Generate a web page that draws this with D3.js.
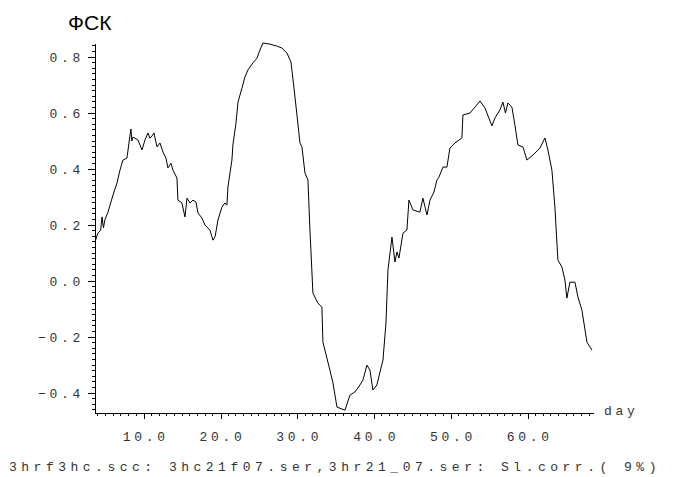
<!DOCTYPE html>
<html>
<head>
<meta charset="utf-8">
<script src="https://cdn.jsdelivr.net/npm/d3@7"></script>
<style>
  body { margin: 0; background: #fff; }
  svg { display: block; }
  .tick-label { font-family: "Liberation Mono", monospace; font-size: 13px; fill: #333; letter-spacing: 3.7px; }
  .footer { font-family: "Liberation Mono", monospace; font-size: 13px; fill: #333; letter-spacing: 4.5px; }
  .title { font-family: "Liberation Sans", Arial, sans-serif; font-size: 21px; fill: #000; }
</style>
</head>
<body>
<div id="chart"></div>
<script>
// series: day vs correlation
const days = [
  3.65, 4.0, 4.39, 4.56, 4.75, 4.95, 5.34, 5.99, 6.51, 6.90, 7.29, 7.81, 8.07, 8.33, 8.45, 8.59,
  9.24, 9.77, 10.16, 10.55, 10.8, 11.07, 11.33, 11.72, 12.11, 12.50, 12.89, 13.15, 13.54, 13.80,
  14.32, 14.45, 14.97, 15.36, 15.63, 16.02, 16.41, 16.80, 17.06, 17.58, 17.97, 18.62, 19.01, 19.3,
  19.66, 20.18, 20.57, 20.83, 20.96, 21.48, 21.61, 22.01, 22.27, 22.79, 23.18, 23.57, 24.22, 24.74,
  25.13, 25.52, 26.43, 27.34, 27.99, 28.65, 29.17, 29.56, 29.95, 30.34, 30.60, 30.99, 31.38, 31.64,
  32.03, 32.68, 33.20, 33.33, 34.24, 34.64, 35.16, 35.55, 36.20, 36.85, 37.50, 38.15, 38.54, 39.06,
  39.45, 39.84, 40.36, 40.76, 41.15, 41.54, 41.80, 42.32, 42.71, 42.97, 43.23, 43.75, 44.27, 44.53,
  45.05, 45.96, 46.35, 46.88, 47.27, 47.79, 48.18, 48.44, 48.96, 49.48, 49.87, 50.52, 51.43, 51.56,
  52.47, 53.13, 53.78, 54.43, 55.34, 55.73, 56.38, 56.77, 57.1, 57.42, 57.94, 58.33, 58.72, 59.38,
  59.90, 60.68, 61.59, 62.24, 62.63, 63.15, 63.54, 63.93, 64.45, 64.84, 65.10, 65.49, 66.15, 66.54,
  67.06, 67.32, 67.71, 68.36
];
const corr = [
  0.139, 0.17, 0.182, 0.229, 0.19, 0.22, 0.246, 0.307, 0.350, 0.396, 0.432, 0.439, 0.493, 0.543, 0.50, 0.514,
  0.504, 0.468, 0.504, 0.529, 0.51, 0.518, 0.529, 0.479, 0.493, 0.461, 0.439, 0.404, 0.421, 0.396,
  0.368, 0.289, 0.279, 0.229, 0.296, 0.279, 0.289, 0.282, 0.243, 0.225, 0.200, 0.182, 0.146, 0.16,
  0.218, 0.264, 0.279, 0.271, 0.336, 0.432, 0.486, 0.564, 0.639, 0.689, 0.729, 0.754, 0.779, 0.796,
  0.825, 0.850, 0.846, 0.839, 0.832, 0.814, 0.782, 0.689, 0.593, 0.493, 0.479, 0.386, 0.361, 0.182,
  -0.043, -0.079, -0.093, -0.218, -0.318, -0.364, -0.450, -0.454, -0.461, -0.407, -0.396, -0.371, -0.354, -0.300,
  -0.318, -0.389, -0.371, -0.325, -0.282, -0.150, 0.039, 0.157, 0.068, 0.104, 0.082, 0.171, 0.182, 0.289,
  0.254, 0.246, 0.296, 0.236, 0.289, 0.318, 0.361, 0.371, 0.407, 0.407, 0.475, 0.493, 0.511, 0.593,
  0.600, 0.621, 0.643, 0.618, 0.554, 0.582, 0.611, 0.639, 0.60, 0.636, 0.621, 0.557, 0.486, 0.479,
  0.432, 0.450, 0.475, 0.511, 0.468, 0.396, 0.264, 0.075, 0.050, 0.004, -0.061, -0.004, -0.004, -0.057,
  -0.104, -0.150, -0.218, -0.246
];

const xMajorTicks = [10, 20, 30, 40, 50, 60];
const xTickLabels = ["10.0", "20.0", "30.0", "40.0", "50.0", "60.0"];
const yMajorTicks = [-0.4, -0.2, 0.0, 0.2, 0.4, 0.6, 0.8];
const yTickLabels = ["\u22120.4", "\u22120.2", "0.0", "0.2", "0.4", "0.6", "0.8"];

const titleText = "ФСК";
const xAxisName = "day";
const footerText = "3hrf3hc.scc: 3hc21f07.ser,3hr21_07.ser: Sl.corr.( 9%)";

const width = 680;
const height = 477;

const svg = d3.select("#chart")
  .append("svg")
  .attr("width", width)
  .attr("height", height);

const x = d3.scaleLinear().domain([3.65, 68.5]).range([95, 593]);
const y = d3.scaleLinear().domain([-0.471, 0.85]).range([413, 43]);

// minor ticks: every day on x, every 0.02 on y
const xMinor = d3.range(4, 69).filter((d) => d % 10 !== 0);
const yMinor = d3.range(-23, 43).map((i) => i * 0.02)
  .filter((v) => Math.abs(Math.round(v * 50) % 10) !== 0);

const xAxis = d3.axisBottom(x)
  .tickValues(xMajorTicks)
  .tickSize(6)
  .tickSizeOuter(0)
  .tickFormat("");
const yAxis = d3.axisLeft(y)
  .tickValues(yMajorTicks)
  .tickSize(7)
  .tickSizeOuter(0)
  .tickFormat("");

const gx = svg.append("g")
  .attr("transform", `translate(0, ${y.range()[0]})`)
  .call(xAxis);
const gy = svg.append("g")
  .attr("transform", `translate(${x.range()[0]}, 0)`)
  .call(yAxis);

gx.selectAll(".minor")
  .data(xMinor)
  .enter()
  .append("line")
  .attr("class", "minor")
  .attr("x1", (d) => x(d))
  .attr("x2", (d) => x(d))
  .attr("y1", 0)
  .attr("y2", 3);

gy.selectAll(".minor")
  .data(yMinor)
  .enter()
  .append("line")
  .attr("class", "minor")
  .attr("y1", (d) => y(d))
  .attr("y2", (d) => y(d))
  .attr("x1", 0)
  .attr("x2", -3);

svg.selectAll(".domain, .tick line, .minor")
  .attr("stroke", "#000")
  .attr("stroke-width", 1)
  .attr("shape-rendering", "crispEdges");

// tick labels
svg.selectAll(".xlab")
  .data(xMajorTicks)
  .enter()
  .append("text")
  .attr("class", "tick-label")
  .attr("x", (d) => x(d) + 2)
  .attr("y", 441)
  .attr("text-anchor", "middle")
  .text((d, i) => xTickLabels[i]);

svg.selectAll(".ylab")
  .data(yMajorTicks)
  .enter()
  .append("text")
  .attr("class", "tick-label")
  .attr("x", 84)
  .attr("y", (d) => y(d) + 5)
  .attr("text-anchor", "end")
  .text((d, i) => yTickLabels[i]);

svg.append("text")
  .attr("class", "tick-label")
  .attr("x", 604)
  .attr("y", 415)
  .text(xAxisName);

svg.append("text")
  .attr("class", "title")
  .attr("x", 68)
  .attr("y", 30)
  .text(titleText);

svg.append("text")
  .attr("class", "footer")
  .attr("x", 9)
  .attr("y", 471)
  .text(footerText);

const line = d3.line()
  .x((d) => x(d[0]))
  .y((d) => y(d[1]));

svg.append("path")
  .datum(days.map((d, i) => [d, corr[i]]))
  .attr("fill", "none")
  .attr("stroke", "#000")
  .attr("stroke-width", 1)
  .attr("d", line);
</script>
</body>
</html>
